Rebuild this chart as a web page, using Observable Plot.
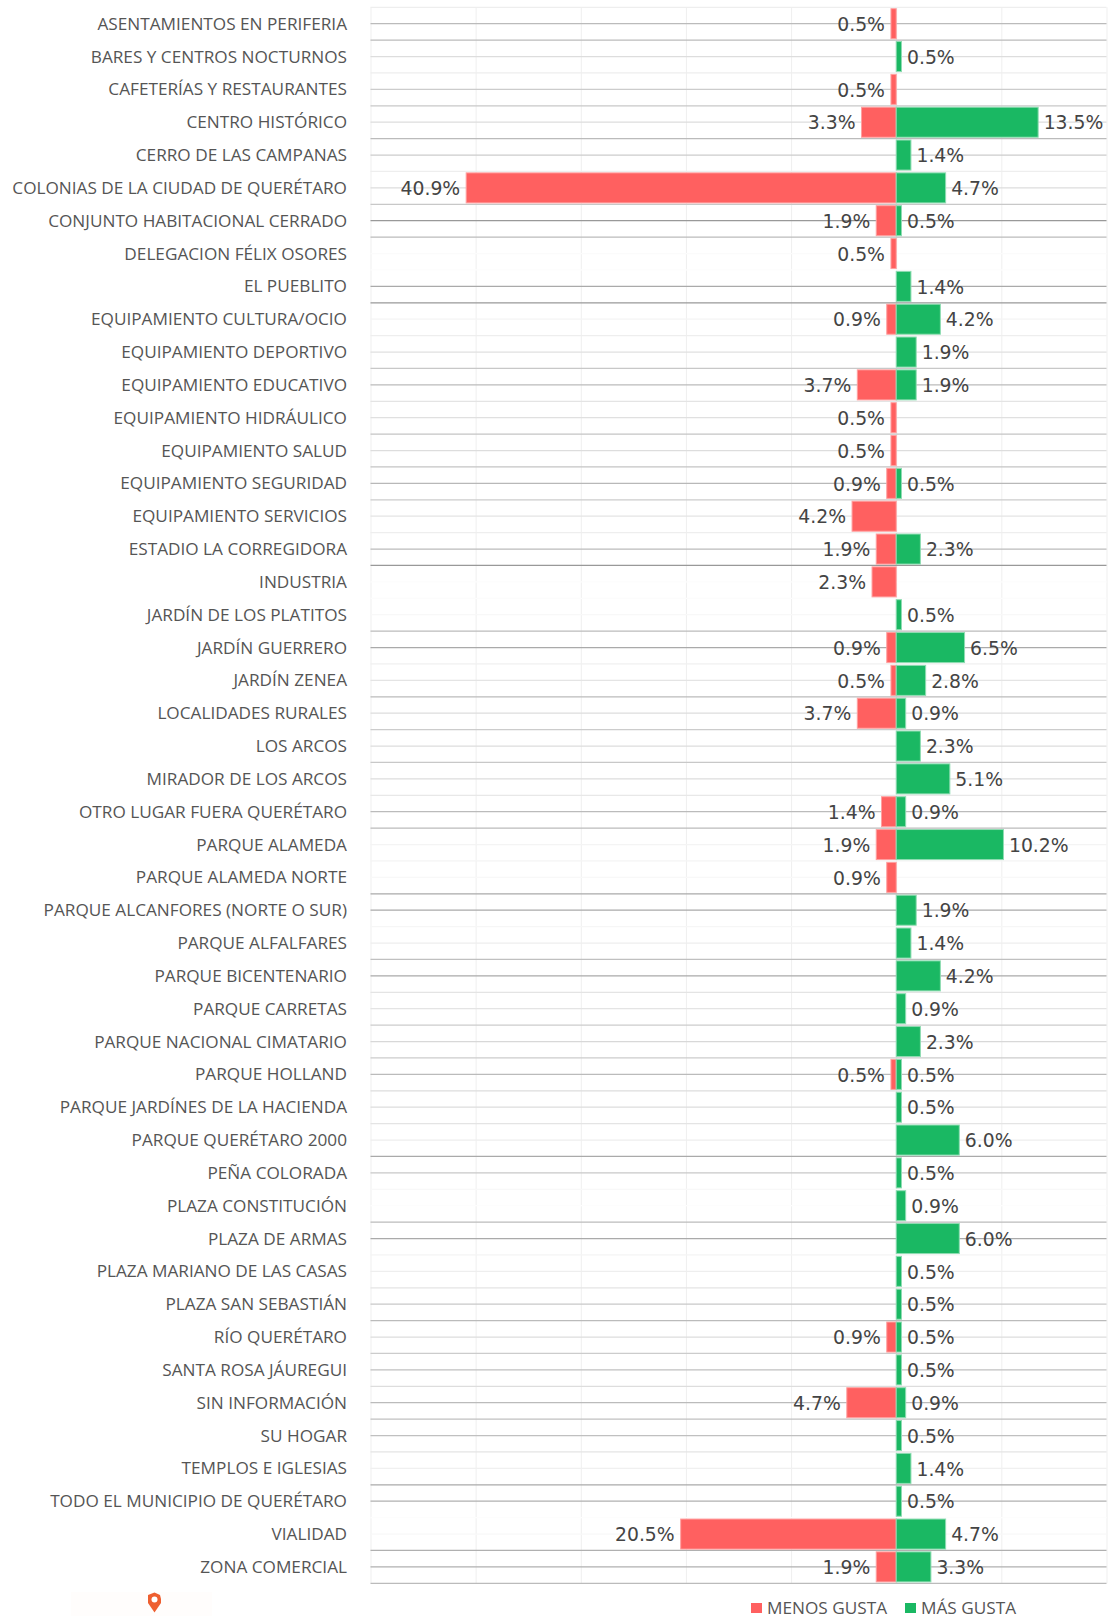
<!DOCTYPE html>
<html lang="es">
<head>
<meta charset="utf-8">
<script src="https://cdn.jsdelivr.net/npm/d3@7"></script>
<script src="https://cdn.jsdelivr.net/npm/@observablehq/plot@0.6"></script>
<style>
  html, body { margin: 0; padding: 0; background: #fff; }
  #chart svg { display: block; }
  #foot { position: relative; width: 1108px; height: 24px; font-family: "Open Sans", sans-serif; font-size: 17.2px; color: #555; }
  #foot .pinbox { position: absolute; left: 71px; top: 0; width: 141px; height: 24px; background: #fffdfc; }
  #foot svg { position: absolute; left: 147px; top: 0; }
  #foot .sw { position: absolute; top: 11px; width: 11px; height: 10px; }
  #foot .lb { position: absolute; top: 7px; height: 17px; line-height: 17px; white-space: nowrap; }
</style>
</head>
<body>
<div id="chart"></div>
<div id="foot">
  <div class="pinbox"></div>
  <svg width="15" height="21" viewBox="0 0 15 21"><path d="M7.5 0.5 L13 3 L14 7 L14 11 L7.5 20.5 L1 11 L1 3 Z" fill="#ee5f30"/><circle cx="7.5" cy="7.5" r="3" fill="#fff"/></svg>
  <div class="sw" style="left:751px;background:#ff6060"></div><div class="lb" style="left:767px">MENOS GUSTA</div>
  <div class="sw" style="left:905px;background:#1ab863"></div><div class="lb" style="left:921px">MÁS GUSTA</div>
</div>
<script>
const categories = ["ASENTAMIENTOS EN PERIFERIA","BARES Y CENTROS NOCTURNOS","CAFETERÍAS Y RESTAURANTES","CENTRO HISTÓRICO","CERRO DE LAS CAMPANAS","COLONIAS DE LA CIUDAD DE QUERÉTARO","CONJUNTO HABITACIONAL CERRADO","DELEGACION FÉLIX OSORES","EL PUEBLITO","EQUIPAMIENTO CULTURA/OCIO","EQUIPAMIENTO DEPORTIVO","EQUIPAMIENTO EDUCATIVO","EQUIPAMIENTO HIDRÁULICO","EQUIPAMIENTO SALUD","EQUIPAMIENTO SEGURIDAD","EQUIPAMIENTO SERVICIOS","ESTADIO LA CORREGIDORA","INDUSTRIA","JARDÍN DE LOS PLATITOS","JARDÍN GUERRERO","JARDÍN ZENEA","LOCALIDADES RURALES","LOS ARCOS","MIRADOR DE LOS ARCOS","OTRO LUGAR FUERA QUERÉTARO","PARQUE ALAMEDA","PARQUE ALAMEDA NORTE","PARQUE ALCANFORES (NORTE O SUR)","PARQUE ALFALFARES","PARQUE BICENTENARIO","PARQUE CARRETAS","PARQUE NACIONAL CIMATARIO","PARQUE HOLLAND","PARQUE JARDÍNES DE LA HACIENDA","PARQUE QUERÉTARO 2000","PEÑA COLORADA","PLAZA CONSTITUCIÓN","PLAZA DE ARMAS","PLAZA MARIANO DE LAS CASAS","PLAZA SAN SEBASTIÁN","RÍO QUERÉTARO","SANTA ROSA JÁUREGUI","SIN INFORMACIÓN","SU HOGAR","TEMPLOS E IGLESIAS","TODO EL MUNICIPIO DE QUERÉTARO","VIALIDAD","ZONA COMERCIAL"];
const menosGusta = [0.5,null,0.5,3.3,null,40.9,1.9,0.5,null,0.9,null,3.7,0.5,0.5,0.9,4.2,1.9,2.3,null,0.9,0.5,3.7,null,null,1.4,1.9,0.9,null,null,null,null,null,0.5,null,null,null,null,null,null,null,0.9,null,4.7,null,null,null,20.5,1.9];
const masGusta = [null,0.5,null,13.5,1.4,4.7,0.5,null,1.4,4.2,1.9,1.9,null,null,0.5,null,2.3,null,0.5,6.5,2.8,0.9,2.3,5.1,0.9,10.2,null,1.9,1.4,4.2,0.9,2.3,0.5,0.5,6.0,0.5,0.9,6.0,0.5,0.5,0.5,0.5,0.9,0.5,1.4,0.5,4.7,3.3];
const xTicks = [-50,-40,-30,-20,-10,0,10,20];
// shade of each horizontal rule, top to bottom (boundary, centre, boundary, ...)
const ruleShades = ["ee","bb","bb","dd","ee","cc","c8","dd","bb","cc","ee","dd","c8","99","bb","fb","fd","aa","99","f4","ee","e0","c8","bb","e4","e0","c4","dd","c4","b8","cc","e4","ee","bb","99","fd","fc","f8","bb","aa","f0","e4","bb","dd","cc","dd","c8","dd","e8","bb","bb","f4","f4","f8","aa","aa","f6","ee","c0","aa","e4","e4","cc","d8","cc","bb","dd","dd","e4","ee","aa","c8","f8","fd","bb","aa","f4","ee","e4","c8","bb","dd","cc","c0","dd","bb","c0","c0","e4","f0","aa","b0","fd","f8","b0","b0","bb"];

const shade = i => "#" + ruleShades[i].repeat(3);
const step = 1576 / categories.length;
const menosRows = categories.map((c, i) => ({c, v: menosGusta[i]})).filter(d => d.v != null);
const masRows = categories.map((c, i) => ({c, v: masGusta[i]})).filter(d => d.v != null);
const pct = d => d.v.toFixed(1) + "%";
const valueStyle = {fontFamily: "DejaVu Sans", fontSize: 18.8, fill: "#444", lineAnchor: "middle", dy: 0.6};
const barStyle = {insetTop: 1.4, insetBottom: 1.4, strokeWidth: 1};

const chart = Plot.plot({
  width: 1108,
  height: 1592,
  marginLeft: 370.5,
  marginRight: 1.5,
  marginTop: 7.3,
  marginBottom: 8.7,
  style: {background: "#fff", overflow: "visible"},
  x: {domain: [-50, 20], axis: null},
  y: {domain: categories, round: false, padding: 0, label: null},
  color: {type: "identity"},
  marks: [
    Plot.ruleX(xTicks, {stroke: "#efefef", strokeWidth: 1}),
    Plot.ruleY(categories, {y: d => d, stroke: (d, i) => shade(2 * i), dy: -step / 2 - 0.5, strokeWidth: 1.2}),
    Plot.ruleY(categories.slice(-1), {y: d => d, stroke: () => shade(96), dy: step / 2 - 0.5, strokeWidth: 1.2}),
    Plot.ruleY(categories, {y: d => d, stroke: (d, i) => shade(2 * i + 1), dy: -0.5, strokeWidth: 1.2}),
    Plot.barX(menosRows, {x1: 0, x2: d => -d.v, y: "c", fill: "#ff6060", stroke: "#ffa0a0", ...barStyle}),
    Plot.barX(masRows, {x1: 0, x2: d => d.v, y: "c", fill: "#1ab863", stroke: "#8fdcb2", ...barStyle}),
    Plot.text(menosRows, {x: d => -d.v, y: "c", text: pct, textAnchor: "end", dx: -6.5, ...valueStyle}),
    Plot.text(masRows, {x: d => d.v, y: "c", text: pct, textAnchor: "start", dx: 5, ...valueStyle}),
    Plot.axisY({anchor: "left", tickSize: 0, tickPadding: 24, label: null, fontFamily: "Open Sans", fontSize: 17.2, fill: "#555", lineWidth: 40})
  ]
});
document.getElementById("chart").append(chart);
</script>
</body>
</html>
